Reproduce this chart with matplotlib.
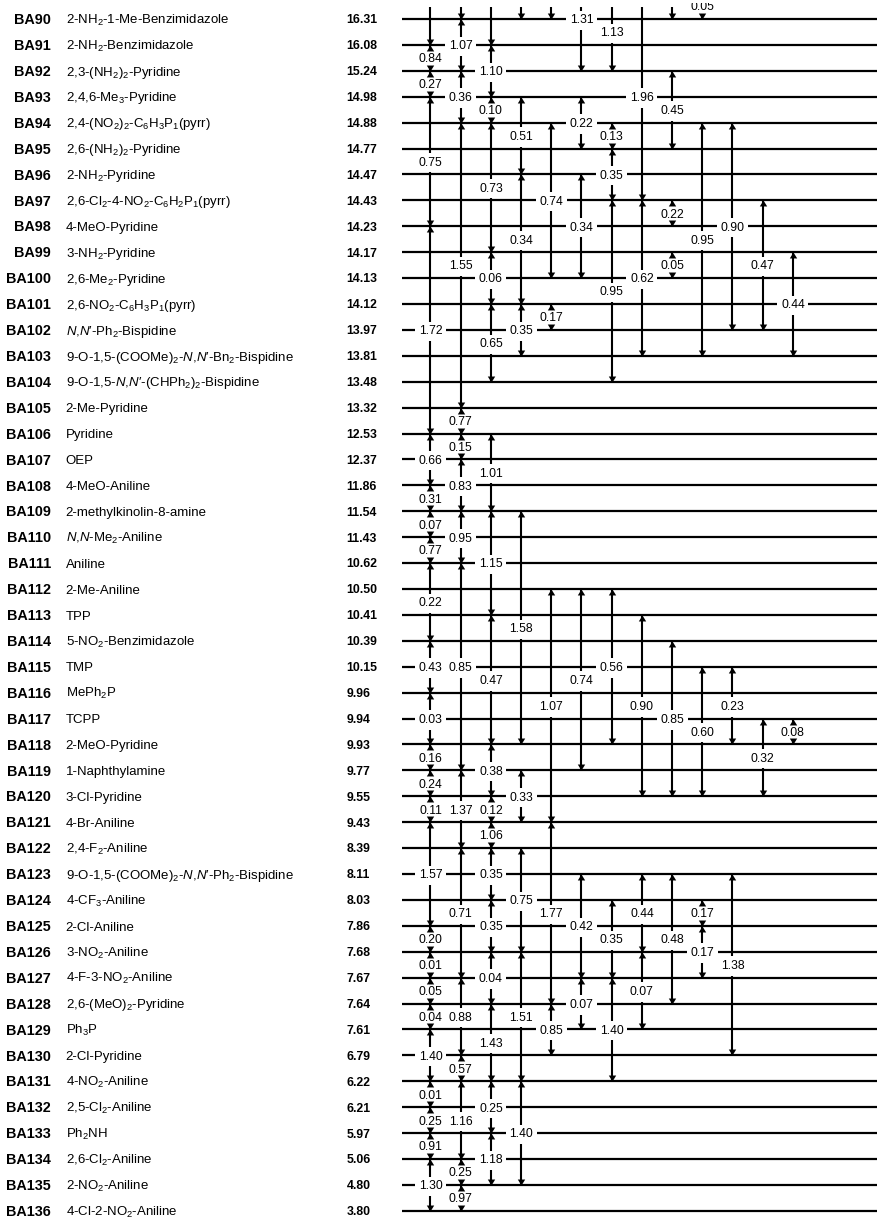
import matplotlib
matplotlib.use("Agg")
import matplotlib.pyplot as plt
from matplotlib.path import Path
from matplotlib.patches import Rectangle
from matplotlib.transforms import ScaledTranslation

plt.rcParams["font.family"] = ["Liberation Sans", "DejaVu Sans"]
plt.rcParams["mathtext.fontset"] = "custom"
plt.rcParams["mathtext.rm"] = "Liberation Sans"
plt.rcParams["mathtext.it"] = "Liberation Sans:italic"
plt.rcParams["mathtext.bf"] = "Liberation Sans:bold"

# ---- compounds (BA90 ... BA136) ------------------------------------------
first_no = 90
names = [
    r"2-NH$_2$-1-Me-Benzimidazole",
    r"2-NH$_2$-Benzimidazole",
    r"2,3-(NH$_2$)$_2$-Pyridine",
    r"2,4,6-Me$_3$-Pyridine",
    r"2,4-(NO$_2$)$_2$-C$_6$H$_3$P$_1$(pyrr)",
    r"2,6-(NH$_2$)$_2$-Pyridine",
    r"2-NH$_2$-Pyridine",
    r"2,6-Cl$_2$-4-NO$_2$-C$_6$H$_2$P$_1$(pyrr)",
    r"4-MeO-Pyridine",
    r"3-NH$_2$-Pyridine",
    r"2,6-Me$_2$-Pyridine",
    r"2,6-NO$_2$-C$_6$H$_3$P$_1$(pyrr)",
    r"$\mathit{N}$,$\mathit{N}$′-Ph$_2$-Bispidine",
    r"9-O-1,5-(COOMe)$_2$-$\mathit{N}$,$\mathit{N}$′-Bn$_2$-Bispidine",
    r"9-O-1,5-$\mathit{N}$,$\mathit{N}$′-(CHPh$_2$)$_2$-Bispidine",
    r"2-Me-Pyridine",
    r"Pyridine",
    r"OEP",
    r"4-MeO-Aniline",
    r"2-methylkinolin-8-amine",
    r"$\mathit{N}$,$\mathit{N}$-Me$_2$-Aniline",
    r"Aniline",
    r"2-Me-Aniline",
    r"TPP",
    r"5-NO$_2$-Benzimidazole",
    r"TMP",
    r"MePh$_2$P",
    r"TCPP",
    r"2-MeO-Pyridine",
    r"1-Naphthylamine",
    r"3-Cl-Pyridine",
    r"4-Br-Aniline",
    r"2,4-F$_2$-Aniline",
    r"9-O-1,5-(COOMe)$_2$-$\mathit{N}$,$\mathit{N}$′-Ph$_2$-Bispidine",
    r"4-CF$_3$-Aniline",
    r"2-Cl-Aniline",
    r"3-NO$_2$-Aniline",
    r"4-F-3-NO$_2$-Aniline",
    r"2,6-(MeO)$_2$-Pyridine",
    r"Ph$_3$P",
    r"2-Cl-Pyridine",
    r"4-NO$_2$-Aniline",
    r"2,5-Cl$_2$-Aniline",
    r"Ph$_2$NH",
    r"2,6-Cl$_2$-Aniline",
    r"2-NO$_2$-Aniline",
    r"4-Cl-2-NO$_2$-Aniline",
]
pka = [
    16.31, 16.08, 15.24, 14.98, 14.88, 14.77, 14.47, 14.43, 14.23, 14.17,
    14.13, 14.12, 13.97, 13.81, 13.48, 13.32, 12.53, 12.37, 11.86, 11.54,
    11.43, 10.62, 10.50, 10.41, 10.39, 10.15, 9.96, 9.94, 9.93, 9.77,
    9.55, 9.43, 8.39, 8.11, 8.03, 7.86, 7.68, 7.67, 7.64, 7.61,
    6.79, 6.22, 6.21, 5.97, 5.06, 4.80, 3.80,
]
ids = [f"BA{first_no + i}" for i in range(len(names))]

# ---- measured delta-pKa links: (upper BA no., lower BA no., column, label) --
# links starting above BA90 continue from the preceding part of the ladder
links = [
    # column 0
    (86, 91, 0, None), (91, 92, 0, "0.84"), (92, 93, 0, "0.27"),
    (93, 98, 0, "0.75"), (98, 106, 0, "1.72"), (106, 108, 0, "0.66"),
    (108, 109, 0, "0.31"), (109, 110, 0, "0.07"), (110, 111, 0, "0.77"),
    (111, 114, 0, "0.22"), (114, 116, 0, "0.43"), (116, 118, 0, "0.03"),
    (118, 119, 0, "0.16"), (119, 120, 0, "0.24"), (120, 121, 0, "0.11"),
    (121, 125, 0, "1.57"), (125, 126, 0, "0.20"), (126, 127, 0, "0.01"),
    (127, 128, 0, "0.05"), (128, 129, 0, "0.04"), (129, 131, 0, "1.40"),
    (131, 132, 0, "0.01"), (132, 133, 0, "0.25"), (133, 134, 0, "0.91"),
    (134, 136, 0, "1.30"),
    # column 1
    (86, 90, 1, None), (90, 92, 1, "1.07"), (92, 94, 1, "0.36"),
    (94, 105, 1, "1.55"), (105, 106, 1, "0.77"), (106, 107, 1, "0.15"),
    (107, 109, 1, "0.83"), (109, 111, 1, "0.95"), (111, 119, 1, "0.85"),
    (119, 122, 1, "1.37"), (122, 127, 1, "0.71"), (127, 130, 1, "0.88"),
    (130, 131, 1, "0.57"), (131, 134, 1, "1.16"), (134, 135, 1, "0.25"),
    (135, 136, 1, "0.97"),
    # column 2
    (86, 91, 2, None), (91, 93, 2, "1.10"), (93, 94, 2, "0.10"),
    (94, 99, 2, "0.73"), (99, 101, 2, "0.06"), (101, 104, 2, "0.65"),
    (106, 109, 2, "1.01"), (109, 113, 2, "1.15"), (113, 118, 2, "0.47"),
    (118, 120, 2, "0.38"), (120, 121, 2, "0.12"), (121, 122, 2, "1.06"),
    (122, 124, 2, "0.35"), (124, 126, 2, "0.35"), (126, 128, 2, "0.04"),
    (128, 131, 2, "1.43"), (131, 133, 2, "0.25"), (133, 135, 2, "1.18"),
    # column 3
    (86, 90, 3, None), (93, 96, 3, "0.51"), (96, 101, 3, "0.34"),
    (101, 103, 3, "0.35"), (109, 118, 3, "1.58"), (119, 121, 3, "0.33"),
    (122, 126, 3, "0.75"), (126, 131, 3, "1.51"), (131, 135, 3, "1.40"),
    # column 4
    (86, 90, 4, None), (94, 100, 4, "0.74"), (101, 102, 4, "0.17"),
    (112, 121, 4, "1.07"), (121, 128, 4, "1.77"), (128, 130, 4, "0.85"),
    # column 5
    (88, 92, 5, "1.31"), (93, 95, 5, "0.22"), (96, 100, 5, "0.34"),
    (112, 119, 5, "0.74"), (123, 127, 5, "0.42"), (127, 129, 5, "0.07"),
    # column 6
    (89, 92, 6, "1.13"), (94, 95, 6, "0.13"), (95, 97, 6, "0.35"),
    (97, 104, 6, "0.95"), (112, 118, 6, "0.56"), (124, 127, 6, "0.35"),
    (127, 131, 6, "1.40"),
    # column 7
    (89, 97, 7, "1.96"), (97, 103, 7, "0.62"), (113, 120, 7, "0.90"),
    (123, 126, 7, "0.44"), (126, 129, 7, "0.07"),
    # column 8
    (86, 90, 8, None), (92, 95, 8, "0.45"), (97, 98, 8, "0.22"),
    (99, 100, 8, "0.05"), (114, 120, 8, "0.85"), (123, 128, 8, "0.48"),
    # column 9
    (89, 90, 9, "0.05"), (94, 103, 9, "0.95"), (115, 120, 9, "0.60"),
    (124, 125, 9, "0.17"), (125, 127, 9, "0.17"),
    # column 10
    (94, 102, 10, "0.90"), (115, 118, 10, "0.23"), (123, 130, 10, "1.38"),
    # column 11
    (97, 102, 11, "0.47"), (117, 120, 11, "0.32"),
    # column 12
    (99, 103, 12, "0.44"), (117, 118, 12, "0.08"),
]

# ---- layout -----------------------------------------------------------------
W, H = 878, 1218
row_top_px, row_step_px = 19.0, 25.91
axes_top_px = 6.5          # the ladder is cut off just above the BA90 row
line_x0, line_x1 = 402, W
col_x0, col_dx = 430.5, 30.2
id_right, name_left, value_left = 51, 65.7, 346.5
fs_id, fs_name, fs_value, fs_delta = 10.4, 9.5, 8.8, 8.7

fig = plt.figure(figsize=(W / 100, H / 100), dpi=100)
ax = fig.add_axes([0, 0, 1, (H - axes_top_px) / H])
ax.set_xlim(0, W)
ax.set_ylim((H - row_top_px) / row_step_px,
            (axes_top_px - row_top_px) / row_step_px)
ax.axis("off")


def row(no):
    return no - first_no


def cap_center(fs):
    # shift a baseline-anchored string so its cap height is centred on y
    return ax.transData + ScaledTranslation(0, -0.358 * fs / 72, fig.dpi_scale_trans)


n = len(names)
ax.hlines(range(n), line_x0, line_x1, color="black", lw=1.6, zorder=1)

for i in range(n):
    ax.text(id_right, i, ids[i], ha="right", va="baseline", fontsize=fs_id,
            fontweight="bold", transform=cap_center(fs_id))
    ax.text(name_left, i, names[i], ha="left", va="baseline", fontsize=fs_name,
            transform=cap_center(fs_name))
    ax.text(value_left, i, f"{pka[i]:.2f}", ha="left", va="baseline",
            fontsize=fs_value, fontweight="bold", transform=cap_center(fs_value))

# arrow heads with the tip at the marker origin
head_up = Path([(0, 0), (-0.62, -1), (0.62, -1), (0, 0)],
               [Path.MOVETO, Path.LINETO, Path.LINETO, Path.CLOSEPOLY])
head_down = Path([(0, 0), (-0.62, 1), (0.62, 1), (0, 0)],
                 [Path.MOVETO, Path.LINETO, Path.LINETO, Path.CLOSEPOLY])

for top, bottom, col, lab in links:
    x = col_x0 + col_dx * col
    y0, y1 = row(top), row(bottom)
    ax.vlines(x, y0, y1, color="black", lw=1.5, zorder=2)
    ax.plot([x], [y0], ls="none", marker=head_up, ms=8.6, mew=0,
            color="black", zorder=4)
    ax.plot([x], [y1], ls="none", marker=head_down, ms=8.6, mew=0,
            color="black", zorder=4)
    if lab is not None:
        ax.text(x, (y0 + y1) / 2, lab, ha="center", va="baseline",
                fontsize=fs_delta, transform=cap_center(fs_delta), zorder=3,
                bbox=dict(boxstyle="square,pad=0.3", fc="white", ec="none"))

# thin white strip along the top edge where the page was trimmed
fig.patches.append(Rectangle((0, 1 - 3 / H), 1, 3 / H, transform=fig.transFigure,
                             facecolor="white", edgecolor="none", zorder=10))

fig.savefig("out.png", dpi=100)
